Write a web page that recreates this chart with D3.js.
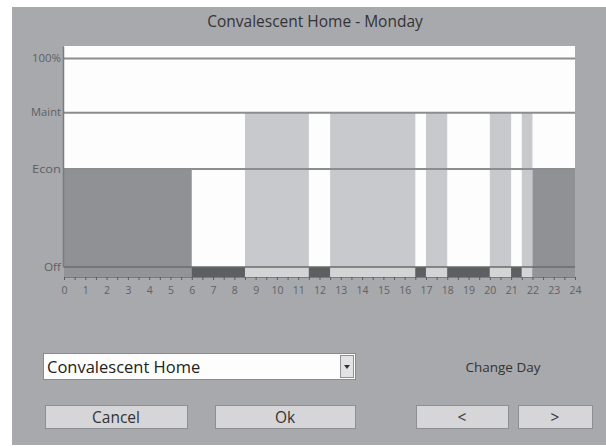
<!DOCTYPE html>
<html><head><meta charset="utf-8">
<script src="https://cdn.jsdelivr.net/npm/d3@7"></script>
<style>html,body{margin:0;padding:0;background:#fff;}svg{display:block;}</style>
</head><body>
<script>
// ---- data ----
const title = "Convalescent Home - Monday";
const segStart = [0, 6, 8.5, 11.5, 12.5, 16.5, 17, 18, 20, 21, 21.5, 22];
const segEnd   = [6, 8.5, 11.5, 12.5, 16.5, 17, 18, 20, 21, 21.5, 22, 24];
const segLevel = ["Econ","Off","Maint","Off","Maint","Off","Maint","Off","Maint","Off","Maint","Econ"];
const levelNames  = ["Off", "Econ", "Maint", "100%"];
const levelValues = [0, 47, 74, 100];
const hourTicks = d3.range(0, 25);
const dropdownText = "Convalescent Home";
const changeDayText = "Change Day";
const buttonLabels = ["Cancel", "Ok", "<", ">"];

const W = 606, H = 448;
const svg = d3.select("body").append("svg").attr("width", W).attr("height", H);
const font = "'Open Sans', 'DejaVu Sans', sans-serif";

// panel
svg.append("rect").attr("x", 12).attr("y", 7).attr("width", W - 12).attr("height", 438).attr("fill", "#a8a9ac");

// title
svg.append("text").attr("x", 315).attr("y", 27).attr("text-anchor", "middle")
  .attr("font-family", font).attr("font-size", 15.5).attr("fill", "#333335").text(title);

const levelMap = new Map(levelNames.map((n, i) => [n, levelValues[i]]));
const x = d3.scaleLinear().domain([0, 24]).range([64, 575]);
const y = d3.scaleLinear().domain([0, 106]).range([267, 46]);

// plot background
svg.append("rect").attr("x", x(0)).attr("y", y(106)).attr("width", x(24) - x(0)).attr("height", y(0) - y(106)).attr("fill", "#fdfdfd");

const segs = segStart.map((s, i) => ({ s, e: segEnd[i], lvl: segLevel[i] }));
const barColor = { Econ: "#909195", Maint: "#c8c9cc", Off: "none" };
const stripColor = { Econ: "#939498", Maint: "#d3d4d6", Off: "#5e5f62" };

svg.append("g").selectAll("rect").data(segs.filter(d => d.lvl !== "Off")).join("rect")
  .attr("x", d => x(d.s)).attr("width", d => x(d.e) - x(d.s))
  .attr("y", d => y(levelMap.get(d.lvl))).attr("height", d => y(0) - y(levelMap.get(d.lvl)))
  .attr("fill", d => barColor[d.lvl]);

// level lines
svg.append("g").selectAll("line").data(levelNames.filter(n => n !== "Off")).join("line")
  .attr("x1", x(0)).attr("x2", x(24))
  .attr("y1", d => y(levelMap.get(d))).attr("y2", d => y(levelMap.get(d)))
  .attr("stroke", "#8c8d90").attr("stroke-width", 2);

// bottom strip
const stripH = 10;
svg.append("g").selectAll("rect").data(segs).join("rect")
  .attr("x", d => x(d.s)).attr("width", d => x(d.e) - x(d.s))
  .attr("y", y(0)).attr("height", stripH)
  .attr("fill", d => stripColor[d.lvl]);
svg.append("line").attr("x1", x(0)).attr("x2", x(24)).attr("y1", y(0)).attr("y2", y(0))
  .attr("stroke", "#6a6b6e").attr("stroke-width", 1.5);

// x axis
const xAxis = d3.axisBottom(x).tickValues(d3.range(0, 24.01, 0.5)).tickSize(3)
  .tickFormat(d => Number.isInteger(d) ? d : "");
const gx = svg.append("g").attr("transform", `translate(0,${y(0) + stripH})`).call(xAxis);
gx.select(".domain").attr("stroke", "#7a7b7e");
gx.selectAll(".tick line").attr("stroke", "#5a5b5e");
gx.selectAll("text").attr("font-family", font).attr("font-size", 10.5).attr("fill", "#606164").attr("dy", "1.05em");

// y axis
const yAxis = d3.axisLeft(y).tickValues(levelValues).tickSize(0)
  .tickFormat((d, i) => levelNames[i]);
const gy = svg.append("g").attr("transform", `translate(${x(0) - 1},0)`).call(yAxis);
gy.select(".domain").attr("stroke", "#7a7b7e").attr("stroke-width", 1.5);
gy.selectAll("text").attr("font-family", font).attr("font-size", 10).attr("fill", "#5e5f62")
  .attr("dx", "1").attr("textLength", (d, i) => [17, 29, 30, 29][i]).attr("lengthAdjust", "spacingAndGlyphs");

// controls
const ctl = svg.append("g").attr("font-family", font);
ctl.append("rect").attr("x", 43.5).attr("y", 353.5).attr("width", 312).attr("height", 26)
  .attr("fill", "#fdfdfd").attr("stroke", "#8a8b8e");
ctl.append("rect").attr("x", 340.5).attr("y", 355.5).attr("width", 13).attr("height", 22)
  .attr("fill", "#e2e2e4").attr("stroke", "#909194");
ctl.append("path").attr("d", "M344,365 L350,365 L347,369 Z").attr("fill", "#333");
ctl.append("text").attr("x", 47).attr("y", 373).attr("font-size", 16.5).attr("fill", "#222").text(dropdownText);
ctl.append("text").attr("x", 503).attr("y", 372).attr("text-anchor", "middle").attr("font-size", 13.5).attr("fill", "#333").text(changeDayText);

const btnX = [45, 215, 416, 518];
const btnW = [142, 140, 92, 74];
btnX.forEach((bx, i) => {
  ctl.append("rect").attr("x", bx + 0.5).attr("y", 405.5).attr("width", btnW[i]).attr("height", 23)
    .attr("fill", "#d6d6d8").attr("stroke", "#8e8f92");
  ctl.append("text").attr("x", bx + btnW[i] / 2).attr("y", 423).attr("text-anchor", "middle")
    .attr("font-size", 15.5).attr("fill", "#333").text(buttonLabels[i]);
});
</script>
</body></html>
